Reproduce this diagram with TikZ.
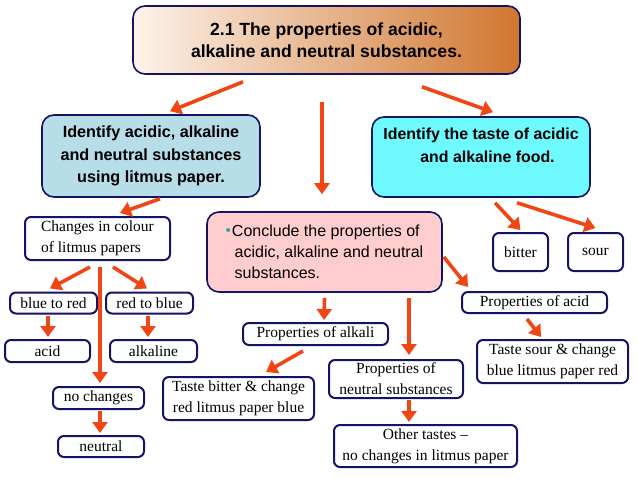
\documentclass[tikz,border=0pt]{standalone}
\usepackage{fontspec}
\setmainfont{Liberation Serif}
\setsansfont{Liberation Sans}
\usepackage{tikz}
\usetikzlibrary{shapes,arrows.meta,positioning,calc}
\usepackage{xcolor}
\definecolor{boxnavy}{RGB}{20,20,100}
\definecolor{arrred}{RGB}{240,70,20}
\definecolor{litblue}{RGB}{183,221,232}
\definecolor{tastecyan}{RGB}{110,250,255}
\definecolor{conpink}{RGB}{255,205,205}
\definecolor{titlelight}{RGB}{253,243,234}
\definecolor{titledark}{RGB}{208,118,48}
\definecolor{bultea}{RGB}{60,160,170}

\begin{document}
\begin{tikzpicture}[x=1pt, y=-1pt,
    bigbox/.style={rectangle, draw=boxnavy, line width=1.6pt, rounded corners=12pt,
                 align=center, inner sep=0pt},
    smallbox/.style={rectangle, draw=boxnavy, line width=2pt, rounded corners=6pt,
                 align=center, inner sep=0pt, font=\fontsize{15.5}{21}\selectfont},
    arr/.style={-{Triangle[length=11pt,width=15pt]}, line width=3.6pt, arrred}
]
\useasboundingbox (0,0) rectangle (638,479);

% main boxes
\node[bigbox, left color=titlelight, right color=titledark, minimum width=387, minimum height=68,
      font=\sffamily\bfseries\fontsize{17.6}{22}\selectfont] (title) at (326.5,40)
      {2.1 The properties of acidic,\\alkaline and neutral substances.};
\node[bigbox, fill=litblue, minimum width=218, minimum height=82,
      font=\sffamily\bfseries\fontsize{16.2}{22.5}\selectfont] (ident) at (151,156)
      {Identify acidic, alkaline\\and neutral substances\\using litmus paper.};
\node[bigbox, fill=tastecyan, minimum width=218, minimum height=80,
      font=\sffamily\bfseries\fontsize{15.9}{23}\selectfont] (taste) at (481,157)
      {Identify the taste of acidic\\\hspace*{13pt}and alkaline food.\\~};
\node[bigbox, fill=conpink, minimum width=235, minimum height=80, align=left,
      font=\sffamily\fontsize{16}{21}\selectfont] (concl) at (324.5,252)
      {{\color{bultea}\fontsize{15}{15}\selectfont\raisebox{1pt}{•}}\hspace{1pt}Conclude the properties of\\
       \hspace*{9pt}acidic, alkaline and neutral\\\hspace*{9pt}substances.};

% litmus side
\node[smallbox, minimum width=145, minimum height=43, align=left] (changes) at (97.5,238.5)
      {Changes in colour\\of litmus papers};
\node[smallbox, minimum width=87, minimum height=21] (btr) at (53.5,303) {blue to red};
\node[smallbox, minimum width=87, minimum height=21] (rtb) at (149.5,303) {red to blue};
\node[smallbox, minimum width=85, minimum height=22] (acid) at (47.5,351) {acid};
\node[smallbox, minimum width=87, minimum height=22] (alk) at (153.5,351) {alkaline};
\node[smallbox, minimum width=91, minimum height=22] (nochg) at (98.5,398) {no changes};
\node[smallbox, minimum width=86, minimum height=21] (neutral) at (101,446.5) {neutral};

% properties
\node[smallbox, minimum width=145, minimum height=22] (propalk) at (315.5,334) {Properties of alkali};
\node[smallbox, minimum width=151, minimum height=43] (tastebit) at (238.5,398.5)
      {Taste bitter \& change\\red litmus paper blue};
\node[smallbox, minimum width=134, minimum height=38] (propneu) at (396,379)
      {Properties of\\neutral substances};
\node[smallbox, minimum width=183, minimum height=42] (other) at (425.5,446)
      {Other tastes --\\no changes in litmus paper};
\node[smallbox, minimum width=145, minimum height=21] (propacid) at (534.5,302.5) {Properties of acid};
\node[smallbox, minimum width=151, minimum height=43] (tastesour) at (552.5,361.5)
      {Taste sour \& change\\blue litmus paper red};

% taste side
\node[smallbox, minimum width=55, minimum height=38] (bitter) at (520.5,252) {bitter};
\node[smallbox, minimum width=55, minimum height=38] (sour) at (595.5,252) {sour};

% arrows
\draw[arr] ([shift={(-83.5,7)}]title.south) -- ([shift={(19,-3)}]ident.north);
\draw[arr] ([shift={(-4.5,27)}]title.south) -- ([shift={(-2.5,-17)}]concl.north);
\draw[arr] ([shift={(95.5,12)}]title.south) -- ([shift={(12,-4)}]taste.north);
\draw[arr] ([shift={(9,1)}]ident.south) -- ([shift={(22.5,-3)}]changes.north);
\draw[arr] ([shift={(-7.5,6)}]changes.south) -- ([shift={(-3.5,-3)}]btr.north);
\draw[arr] ([shift={(15.5,6)}]changes.south) -- ([shift={(-2.5,-3)}]rtb.north);
\draw[arr] ([shift={(2.5,6)}]changes.south) -- ([shift={(1.5,-3)}]nochg.north);
\draw[arr] ([shift={(-5.5,1)}]btr.south) -- ([shift={(0.5,-2)}]acid.north);
\draw[arr] ([shift={(-1.5,1)}]rtb.south) -- ([shift={(-5.5,-2)}]alk.north);
\draw[arr] ([shift={(1.5,1)}]nochg.south) -- ([shift={(-1,-2)}]neutral.north);
\draw[arr] ([shift={(0,5)}]concl.south) -- ([shift={(8.5,-2)}]propalk.north);
\draw[arr] ([shift={(84.5,5)}]concl.south) -- ([shift={(13,-4)}]propneu.north);
\draw[arr] ([shift={(1,5)}]concl.east) -- ([shift={(-66.5,-4)}]propacid.north);
\draw[arr] ([shift={(-12.5,5)}]propalk.south) -- ([shift={(27.5,-4)}]tastebit.north);
\draw[arr] ([shift={(13,1)}]propneu.south) -- ([shift={(-16.5,-2)}]other.north);
\draw[arr] ([shift={(14,5)}]taste.south) -- ([shift={(0,-2)}]bitter.north);
\draw[arr] ([shift={(36,5)}]taste.south) -- ([shift={(0,-4)}]sour.north);
\draw[arr] ([shift={(-7.5,5)}]propacid.south) -- ([shift={(-11.5,-2)}]tastesour.north);
\end{tikzpicture}
\end{document}
